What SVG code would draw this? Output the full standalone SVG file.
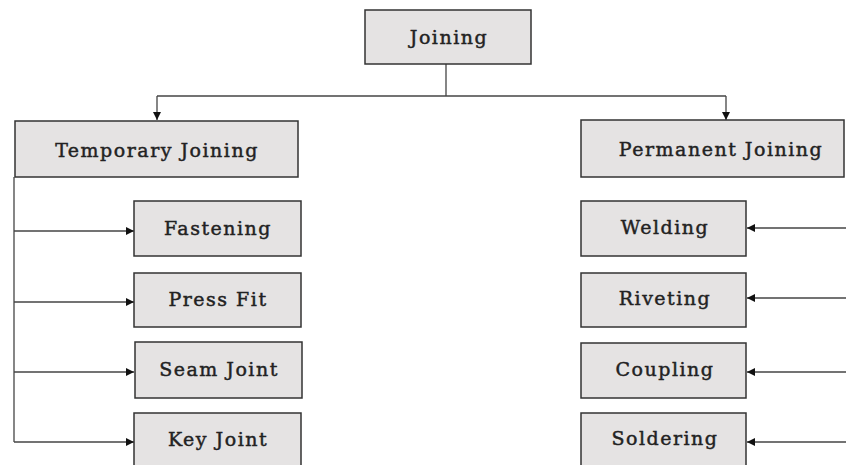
<svg xmlns="http://www.w3.org/2000/svg" width="846" height="465" viewBox="0 0 846 465">
<defs>
<marker id="ah" viewBox="0 0 10 10" refX="10" refY="5" markerWidth="10" markerHeight="8" markerUnits="userSpaceOnUse" orient="auto">
<path d="M0,0 L10,5 L0,10 Z" fill="#111"/>
</marker>
</defs>
<style>
.box{fill:#e5e3e3;stroke:#333;stroke-width:1.5}
.lbl{font-family:"DejaVu Serif","Liberation Serif",serif;font-size:19px;letter-spacing:1.5px;fill:#222;stroke:#222;stroke-width:0.45;text-anchor:middle}
.c{fill:none;stroke:#444;stroke-width:1.3}
</style>
<rect width="846" height="465" fill="#fff"/>
<g id="connectors">
<path class="c" d="M446,64 V96"/>
<path class="c" d="M157,96 H726"/>
<path class="c" d="M157,96 V120" marker-end="url(#ah)"/>
<path class="c" d="M726,96 V120" marker-end="url(#ah)"/>
<path class="c" d="M14,177 V442"/>
<path class="c" d="M14,231 H134" marker-end="url(#ah)"/>
<path class="c" d="M14,302 H134" marker-end="url(#ah)"/>
<path class="c" d="M14,372 H134" marker-end="url(#ah)"/>
<path class="c" d="M14,442 H134" marker-end="url(#ah)"/>
<path class="c" d="M846,228 H747" marker-end="url(#ah)"/>
<path class="c" d="M846,298 H747" marker-end="url(#ah)"/>
<path class="c" d="M846,372 H747" marker-end="url(#ah)"/>
<path class="c" d="M846,442 H747" marker-end="url(#ah)"/>
</g>
<g id="joining"><rect class="box" x="365" y="10" width="166" height="54"/><text class="lbl" x="449" y="44">Joining</text></g>
<g id="temporary"><rect class="box" x="15" y="121" width="283" height="56"/><text class="lbl" x="157" y="157">Temporary Joining</text></g>
<g id="permanent"><rect class="box" x="581" y="120" width="263" height="57"/><text class="lbl" x="721" y="156">Permanent Joining</text></g>
<g id="fastening"><rect class="box" x="134" y="201" width="167" height="55"/><text class="lbl" x="218" y="235">Fastening</text></g>
<g id="pressfit"><rect class="box" x="134" y="273" width="167" height="54"/><text class="lbl" x="218" y="306">Press Fit</text></g>
<g id="seamjoint"><rect class="box" x="135" y="342" width="167" height="56"/><text class="lbl" x="219" y="376">Seam Joint</text></g>
<g id="keyjoint"><rect class="box" x="134" y="413" width="167" height="60"/><text class="lbl" x="218" y="446">Key Joint</text></g>
<g id="welding"><rect class="box" x="581" y="201" width="165" height="55"/><text class="lbl" x="665" y="234">Welding</text></g>
<g id="riveting"><rect class="box" x="581" y="273" width="165" height="54"/><text class="lbl" x="665" y="305">Riveting</text></g>
<g id="coupling"><rect class="box" x="581" y="343" width="165" height="55"/><text class="lbl" x="665" y="376">Coupling</text></g>
<g id="soldering"><rect class="box" x="581" y="413" width="165" height="60"/><text class="lbl" x="665" y="445">Soldering</text></g>
</svg>
